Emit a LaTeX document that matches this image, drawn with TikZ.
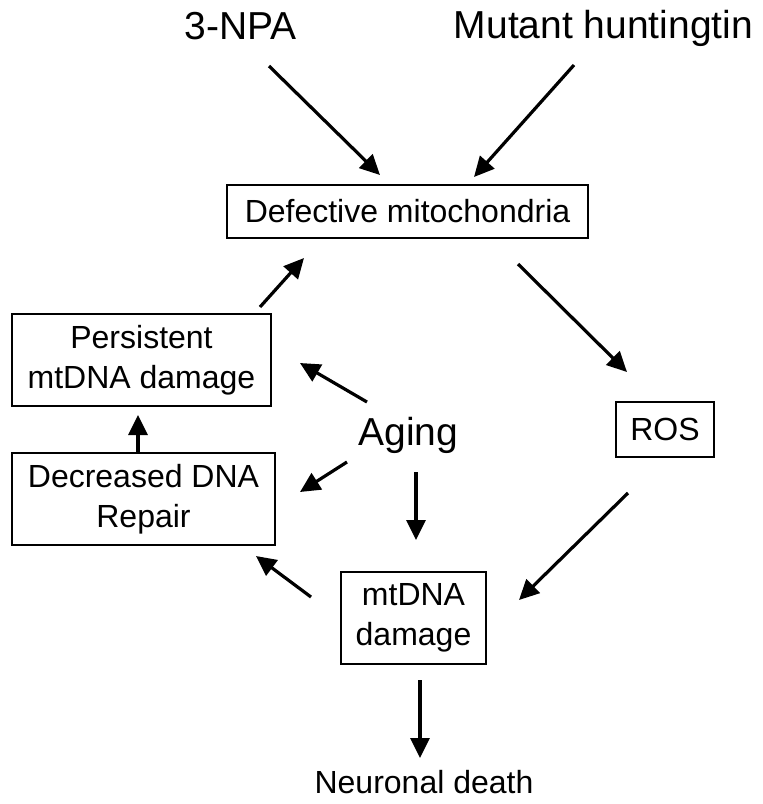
\documentclass[tikz,border=0pt]{standalone}
\usepackage{fontspec}
\setmainfont{Liberation Sans}
\usetikzlibrary{arrows.meta}

\begin{document}
\begin{tikzpicture}
    [x=0.5pt, y=-0.5pt,
    every node/.style={inner sep=0pt, outer sep=0pt, align=center,
        font=\fontsize{16}{20}\selectfont},
    bigtext/.style={anchor=base, font=\fontsize{19.5}{23}\selectfont},
    plaintext/.style={anchor=base},
    box/.style={draw, line width=1pt},
    arr/.style={-{Triangle[length=10pt,width=9.5pt]}, line width=1.6pt}
    ]
    \useasboundingbox (0,0) rectangle (762,804);

    % causes
    \node (npa) [bigtext] at (240.5,39) {3-NPA};
    \node (mutant) [bigtext] at (603.5,38) {Mutant huntingtin};
    \node (aging) [bigtext] at (408.5,445) {Aging};

    % boxes
    \node (defect) [box, minimum width=180.5pt, minimum height=26.5pt] at (407.5,211.5) {Defective mitochondria};
    \node (ros) [box, minimum width=49pt, minimum height=27.5pt] at (665,429.5) {ROS};
    \node (mtdna) [box, minimum width=72.5pt, minimum height=46pt] at (413.5,618) {mtDNA\\damage};
    \node (persist) [box, minimum width=129.5pt, minimum height=46pt] at (141.5,360) {Persistent\\mtDNA damage};
    \node (decr) [box, minimum width=131.5pt, minimum height=46pt] at (143.5,499) {Decreased DNA\\Repair};
    \node (death) [plaintext] at (424,793) {Neuronal death};

    % arrows
    \draw[arr] ([xshift=14.25pt,yshift=-13.5pt]npa.base) -- ([xshift=-13.75pt,yshift=5pt]defect.north);
    \draw[arr] ([xshift=-14.75pt,yshift=-13.5pt]mutant.base) -- ([xshift=33.25pt,yshift=4pt]defect.north);
    \draw[arr] ([xshift=55.25pt,yshift=-13pt]defect.south) -- ([xshift=-19pt,yshift=15pt]ros.north);
    \draw[arr] ([xshift=-18.5pt,yshift=-18pt]ros.south) -- ([xshift=16.5pt,yshift=9pt]mtdna.east);
    \draw[arr] ([xshift=3.25pt,yshift=-8pt]mtdna.south) -- ([xshift=-2pt,yshift=17.5pt]death.base);
    \draw[arr] ([xshift=3.75pt,yshift=-13.5pt]aging.base) -- ([xshift=1.25pt,yshift=16pt]mtdna.north);
    \draw[arr] ([xshift=-20.75pt,yshift=21.5pt]aging.base) -- ([xshift=14.5pt,yshift=-1.5pt]persist.east);
    \draw[arr] ([xshift=-30.75pt,yshift=-8.5pt]aging.base) -- ([xshift=12.5pt,yshift=3.5pt]decr.east);
    \draw[arr] ([xshift=-15pt,yshift=10.5pt]mtdna.west) -- ([xshift=-9.5pt,yshift=-5.5pt]decr.south east);
    \draw[arr] ([xshift=-2.75pt]decr.north) -- ([xshift=-1.75pt,yshift=-4.5pt]persist.south);
    \draw[arr] ([xshift=-5.5pt,yshift=3.5pt]persist.north east) -- ([xshift=38.5pt,yshift=-10pt]defect.south west);
\end{tikzpicture}
\end{document}
